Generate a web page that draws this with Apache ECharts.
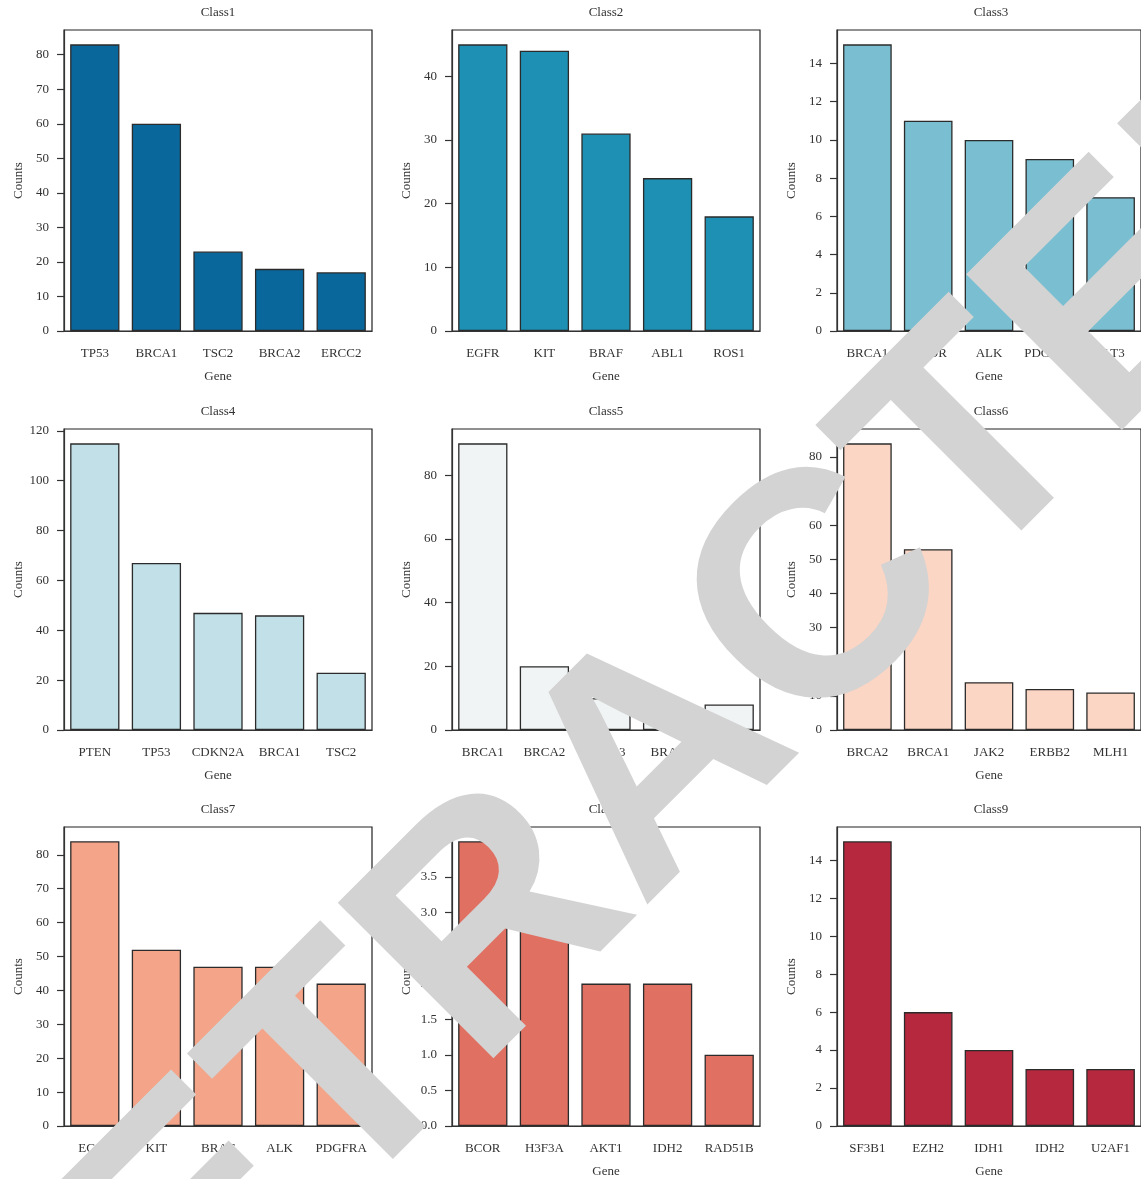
<!DOCTYPE html>
<html>
<head>
<meta charset="utf-8">
<script src="https://cdn.jsdelivr.net/npm/echarts@6/dist/echarts.min.js"></script>
<style>
  html, body { margin: 0; padding: 0; background: #fff; }
  #chart { width: 1141px; height: 1179px; }
</style>
</head>
<body>
<div id="chart"></div>
<script>
// Top mutated genes per class
const class1Genes = ['TP53', 'BRCA1', 'TSC2', 'BRCA2', 'ERCC2'];
const class1Counts = [83, 60, 23, 18, 17];
const class1Ticks = [0, 10, 20, 30, 40, 50, 60, 70, 80];

const class2Genes = ['EGFR', 'KIT', 'BRAF', 'ABL1', 'ROS1'];
const class2Counts = [45, 44, 31, 24, 18];
const class2Ticks = [0, 10, 20, 30, 40];

const class3Genes = ['BRCA1', 'MTOR', 'ALK', 'PDGFRA', 'FLT3'];
const class3Counts = [15, 11, 10, 9, 7];
const class3Ticks = [0, 2, 4, 6, 8, 10, 12, 14];

const class4Genes = ['PTEN', 'TP53', 'CDKN2A', 'BRCA1', 'TSC2'];
const class4Counts = [115, 67, 47, 46, 23];
const class4Ticks = [0, 20, 40, 60, 80, 100, 120];

const class5Genes = ['BRCA1', 'BRCA2', 'FGFR3', 'BRAF', 'PIK3CA'];
const class5Counts = [90, 20, 10, 8, 8];
const class5Ticks = [0, 20, 40, 60, 80];

const class6Genes = ['BRCA2', 'BRCA1', 'JAK2', 'ERBB2', 'MLH1'];
const class6Counts = [84, 53, 14, 12, 11];
const class6Ticks = [0, 10, 20, 30, 40, 50, 60, 70, 80];

const class7Genes = ['EGFR', 'KIT', 'BRAF', 'ALK', 'PDGFRA'];
const class7Counts = [84, 52, 47, 47, 42];
const class7Ticks = [0, 10, 20, 30, 40, 50, 60, 70, 80];

const class8Genes = ['BCOR', 'H3F3A', 'AKT1', 'IDH2', 'RAD51B'];
const class8Counts = [4, 3, 2, 2, 1];
const class8Ticks = [0, 0.5, 1, 1.5, 2, 2.5, 3, 3.5, 4];

const class9Genes = ['SF3B1', 'EZH2', 'IDH1', 'IDH2', 'U2AF1'];
const class9Counts = [15, 6, 4, 3, 3];
const class9Ticks = [0, 2, 4, 6, 8, 10, 12, 14];

const classNames = ['Class1', 'Class2', 'Class3', 'Class4', 'Class5', 'Class6', 'Class7', 'Class8', 'Class9'];
const classColors = ['#0a679b', '#1d90b3', '#7abfd1', '#c2e0e7', '#f1f4f5', '#fcd6c4', '#f4a488', '#e07062', '#b5283d'];

const panels = [
  [class1Genes, class1Counts, class1Ticks],
  [class2Genes, class2Counts, class2Ticks],
  [class3Genes, class3Counts, class3Ticks],
  [class4Genes, class4Counts, class4Ticks],
  [class5Genes, class5Counts, class5Ticks],
  [class6Genes, class6Counts, class6Ticks],
  [class7Genes, class7Counts, class7Ticks],
  [class8Genes, class8Counts, class8Ticks],
  [class9Genes, class9Counts, class9Ticks]
];

const FONT = '"Liberation Serif", "DejaVu Serif", serif';
const TEXT = '#333333';
const colLeft = [64, 452, 837];
const rowTop = [30, 429, 827];
const PW = 308, PH = 301;

const grids = [], xAxes = [], yAxes = [], series = [], graphics = [];

panels.forEach(function (p, i) {
  const genes = p[0], counts = p[1], ticks = p[2];
  const left = colLeft[i % 3], top = rowTop[Math.floor(i / 3)];
  const decimals = ticks.some(function (t) { return t % 1 !== 0; });

  grids.push({
    left: left, top: top, width: PW, height: PH,
    show: true, borderColor: '#222', borderWidth: 1.2, backgroundColor: 'transparent'
  });

  xAxes.push({
    type: 'category', gridIndex: i, data: genes,
    axisLine: { lineStyle: { color: '#333', width: 1.2 } },
    axisTick: { alignWithLabel: true, length: 7, lineStyle: { color: '#333', width: 1.2 } },
    axisLabel: { margin: 16, color: TEXT, fontSize: 13, fontFamily: FONT, interval: 0 },
    name: 'Gene', nameLocation: 'middle', nameGap: 39,
    nameTextStyle: { color: TEXT, fontSize: 13, fontFamily: FONT }
  });

  yAxes.push({
    type: 'value', gridIndex: i, min: 0, max: Math.max.apply(null, counts) * 1.05,
    splitLine: { show: false },
    axisLine: { show: true, lineStyle: { color: '#333', width: 1.2 } },
    axisTick: { show: true, length: 7, customValues: ticks, lineStyle: { color: '#333', width: 1.2 } },
    axisLabel: {
      margin: 15, color: TEXT, fontSize: 13, fontFamily: FONT, customValues: ticks,
      formatter: function (v) { return decimals ? v.toFixed(1) : String(v); }
    },
    name: 'Counts', nameLocation: 'middle', nameGap: 39, nameRotate: 90,
    nameTextStyle: { color: TEXT, fontSize: 13, fontFamily: FONT }
  });

  series.push({
    type: 'bar', xAxisIndex: i, yAxisIndex: i, data: counts, barWidth: '80%',
    itemStyle: { color: classColors[i], borderColor: '#2b2b2b', borderWidth: 1.3 },
    silent: true, animation: false
  });

  graphics.push({
    type: 'text', x: left + PW / 2, y: top - 17, z: 50,
    style: { text: classNames[i], font: '13px ' + FONT, fill: TEXT, align: 'center', verticalAlign: 'middle' }
  });
});

// Diagonal notice stamped across the figure
graphics.push({
  type: 'text', x: 661, y: 766, rotation: 45 * Math.PI / 180, z: 100,
  style: {
    text: 'RETRACTED', font: 'bold 320px "Liberation Sans", Arial, sans-serif',
    fill: '#d3d3d3', align: 'center', verticalAlign: 'middle'
  }
});

const chart = echarts.init(document.getElementById('chart'), null, { renderer: 'canvas' });
chart.setOption({
  animation: false,
  backgroundColor: '#ffffff',
  grid: grids,
  xAxis: xAxes,
  yAxis: yAxes,
  series: series,
  graphic: graphics
});
</script>
</body>
</html>
